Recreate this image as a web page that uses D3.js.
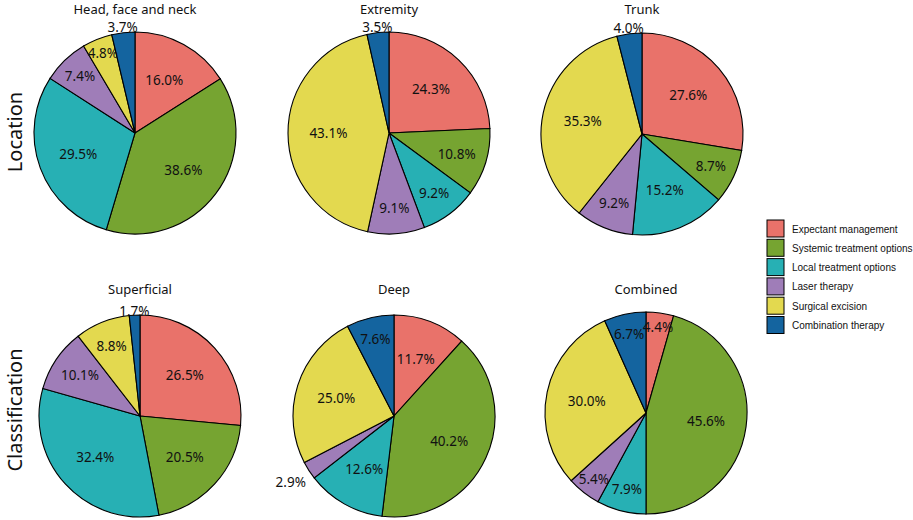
<!DOCTYPE html>
<html lang="en">
<head>
<meta charset="utf-8">
<title>Treatment by location and classification</title>
<script src="https://cdn.jsdelivr.net/npm/d3@7"></script>
<style>
  html, body { margin: 0; padding: 0; background: #fff; }
  svg { display: block; font-family: "Noto Sans", "Open Sans", sans-serif; }
  .legend text { font-family: "Liberation Sans", Arial, sans-serif; }
</style>
</head>
<body>
<script>
// treatment categories, same order in every pie (clockwise from 12 o'clock)
const treatments = ["Expectant management", "Systemic treatment options", "Local treatment options",
                    "Laser therapy", "Surgical excision", "Combination therapy"];
const colors = ["#e9726a", "#76a431", "#27b0b4", "#9f7db8", "#e3d94f", "#14649f"];

const rowNames = ["Location", "Classification"];
const panelTitles = ["Head, face and neck", "Extremity", "Trunk", "Superficial", "Deep", "Combined"];

// percentages per panel
const headFaceNeck = [16.0, 38.6, 29.5, 7.4, 4.8, 3.7];
const extremity    = [24.3, 10.8, 9.2, 9.1, 43.1, 3.5];
const trunk        = [27.6, 8.7, 15.2, 9.2, 35.3, 4.0];
const superficial  = [26.5, 20.5, 32.4, 10.1, 8.8, 1.7];
const deep         = [11.7, 40.2, 12.6, 2.9, 25.0, 7.6];
const combined     = [4.4, 45.6, 7.9, 5.4, 30.0, 6.7];
const panelValues = [headFaceNeck, extremity, trunk, superficial, deep, combined];

const w = 913, h = 520;
const r = 101;
// pie centres
const layout = [
  {x: 135, y: 133}, {x: 389, y: 133}, {x: 642, y: 134},
  {x: 140, y: 416}, {x: 394, y: 416}, {x: 646, y: 413}
];

const svg = d3.select("body").append("svg")
  .attr("width", w)
  .attr("height", h);

const color = d3.scaleOrdinal().domain(treatments).range(colors);

const pie = d3.pie()
  .value(d => d.value)
  .sort(null);

const arc = d3.arc().innerRadius(0).outerRadius(r);

panelValues.forEach((vals, i) => {
  const pos = layout[i];
  const g = svg.append("g").attr("transform", "translate(" + pos.x + "," + pos.y + ")");
  const arcs = pie(vals.map((v, j) => ({name: treatments[j], value: v})));

  g.selectAll("path")
    .data(arcs)
    .enter()
    .append("path")
    .attr("d", arc)
    .attr("fill", d => color(d.data.name))
    .attr("stroke", "#000")
    .attr("stroke-width", 1.1);

  // title
  const rowTop = i < 3 ? 14 : 294;
  svg.append("text")
    .attr("x", pos.x)
    .attr("y", rowTop)
    .attr("text-anchor", "middle")
    .attr("font-size", "13px")
    .attr("fill", "#111")
    .text(panelTitles[i]);

  // slice labels, tiny slices go just outside the rim
  g.selectAll("text.lbl")
    .data(arcs)
    .enter()
    .append("text")
    .attr("class", "lbl")
    .attr("text-anchor", "middle")
    .attr("dominant-baseline", "central")
    .attr("font-size", "13.5px")
    .attr("fill", "#111")
    .text(d => d.data.value.toFixed(1) + "%")
    .attr("transform", d => {
      const a = (d.startAngle + d.endAngle) / 2;
      const s = Math.sin(a), c = Math.cos(a);
      const p = d.data.value;
      let rl;
      if (p <= 4.0) {
        rl = r + 3 + Math.abs(s) * 22;
      } else if (p > 11) {
        rl = r * 0.6;
      } else {
        rl = r * (0.72 + (10 - p) * 0.025);
      }
      return "translate(" + (s * rl) + "," + (-c * rl) + ")";
    });
});

// row labels
rowNames.forEach((name, i) => {
  const cy = i === 0 ? 132 : 410;
  svg.append("text")
    .attr("transform", "translate(22," + cy + ") rotate(-90)")
    .attr("text-anchor", "middle")
    .attr("font-size", "20px")
    .attr("fill", "#111")
    .text(name);
});

// legend
const legend = svg.append("g")
  .attr("class", "legend")
  .attr("transform", "translate(767,220)");

const item = legend.selectAll("g")
  .data(treatments)
  .enter()
  .append("g")
  .attr("transform", (d, i) => "translate(0," + (i * 19.3) + ")");

item.append("rect")
  .attr("width", 17)
  .attr("height", 17)
  .attr("fill", d => color(d))
  .attr("stroke", "#000")
  .attr("stroke-width", 1);

item.append("text")
  .attr("x", 25)
  .attr("y", 9)
  .attr("dominant-baseline", "central")
  .attr("font-size", "10px")
  .attr("fill", "#111")
  .text(d => d);
</script>
</body>
</html>
